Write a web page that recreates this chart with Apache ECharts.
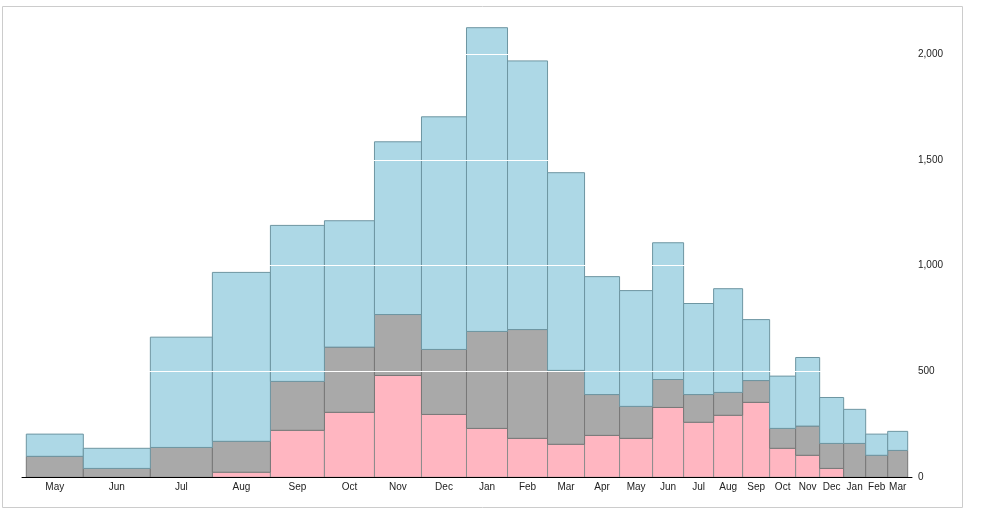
<!DOCTYPE html>
<html>
<head>
<meta charset="utf-8">
<script src="https://cdn.jsdelivr.net/npm/echarts@6/dist/echarts.min.js"></script>
<style>
  html, body { margin: 0; padding: 0; background: #fff; }
  #chart { width: 982px; height: 521px; }
</style>
</head>
<body>
<div id="chart"></div>
<script>
// month of each column
const months = ['May', 'Jun', 'Jul', 'Aug', 'Sep', 'Oct', 'Nov', 'Dec', 'Jan', 'Feb', 'Mar', 'Apr',
  'May', 'Jun', 'Jul', 'Aug', 'Sep', 'Oct', 'Nov', 'Dec', 'Jan', 'Feb', 'Mar'];
// column widths (x extent of each column)
const widths = [57, 67, 62, 58, 54, 50, 47, 45, 41, 40, 37, 35, 33, 31, 30, 29, 27, 26, 24, 24, 22, 22, 20];
// stacked segments, bottom to top
const pinkVals = [0, 0, 0, 24, 222, 307, 481, 297, 231, 184, 156, 198, 184, 330, 260, 293, 354, 137, 104, 42, 0, 0, 0];
const grayVals = [99, 42, 141, 146, 231, 308, 288, 307, 458, 514, 349, 193, 151, 132, 131, 108, 103, 94, 138, 118, 160, 104, 127];
const blueVals = [105, 95, 521, 798, 737, 597, 816, 1099, 1435, 1269, 934, 557, 547, 646, 430, 490, 288, 247, 324, 217, 161, 100, 90];
const yTicks = [0, 500, 1000, 1500, 2000];

// column start positions
const starts = [];
let acc = 0;
widths.forEach(w => { starts.push(acc); acc += w; });
const total = acc;

function buildStack(layers) {
  // returns [x0, x1, yBottom, yTop] per layer
  const base = months.map(() => 0);
  return layers.map(vals => vals.map((v, i) => {
    const item = [starts[i], starts[i] + widths[i], base[i], base[i] + v];
    base[i] += v;
    return item;
  }));
}
const [pinkData, grayData, blueData] = buildStack([pinkVals, grayVals, blueVals]);

function rectRenderer(fill, stroke) {
  return function (params, api) {
    const y0 = api.value(2), y1 = api.value(3);
    if (y1 - y0 <= 0) return null;
    const p0 = api.coord([api.value(0), y1]);
    const p1 = api.coord([api.value(1), y0]);
    return {
      type: 'rect',
      shape: { x: p0[0], y: p0[1], width: p1[0] - p0[0], height: p1[1] - p0[1] },
      style: { fill: fill, stroke: stroke, lineWidth: 1 }
    };
  };
}

const labelData = months.map((m, i) => [starts[i] + widths[i] / 2, 0, m]);

const chart = echarts.init(document.getElementById('chart'));
chart.setOption({
  animation: false,
  textStyle: { fontFamily: 'Liberation Sans, Arial, sans-serif' },
  graphic: [{
    type: 'rect',
    shape: { x: 2.5, y: 6.5, width: 960, height: 501 },
    style: { fill: 'none', stroke: '#cccccc', lineWidth: 1 },
    z: -10
  }],
  grid: { left: 22, right: 70, top: 11.6, bottom: 43.7 },
  xAxis: {
    type: 'value',
    min: -4.3,
    max: total + 4.3,
    z: 10,
    axisLine: { show: true, lineStyle: { color: '#000', width: 1 } },
    axisTick: { show: false },
    axisLabel: { show: false },
    splitLine: { show: false }
  },
  yAxis: {
    type: 'value',
    position: 'right',
    min: 0,
    max: 2200,
    interval: 500,
    z: 10,
    axisLine: { show: false },
    axisTick: { show: false },
    axisLabel: {
      margin: 6,
      fontSize: 10,
      color: '#222',
      showMaxLabel: false,
      formatter: v => yTicks.includes(v) ? v.toLocaleString('en-US') : ''
    },
    splitLine: { show: true, lineStyle: { color: '#ffffff', width: 1 } }
  },
  series: [
    { type: 'custom', name: 'pink', renderItem: rectRenderer('#ffb6c1', '#8c8c8c'),
      encode: { x: [0, 1], y: [2, 3] }, data: pinkData },
    { type: 'custom', name: 'gray', renderItem: rectRenderer('#a9a9a9', '#787878'),
      encode: { x: [0, 1], y: [2, 3] }, data: grayData },
    { type: 'custom', name: 'blue', renderItem: rectRenderer('#add8e6', '#6e96a2'),
      encode: { x: [0, 1], y: [2, 3] }, data: blueData },
    { type: 'custom', name: 'labels', silent: true,
      encode: { x: 0, y: 1 },
      data: labelData,
      renderItem: function (params, api) {
        const p = api.coord([api.value(0), 0]);
        return {
          type: 'text',
          x: p[0], y: p[1] + 9.5,
          style: {
            text: labelData[params.dataIndex][2],
            fill: '#222', fontSize: 10,
            fontFamily: 'Liberation Sans, Arial, sans-serif',
            align: 'center', verticalAlign: 'middle'
          }
        };
      }
    }
  ]
});
</script>
</body>
</html>
